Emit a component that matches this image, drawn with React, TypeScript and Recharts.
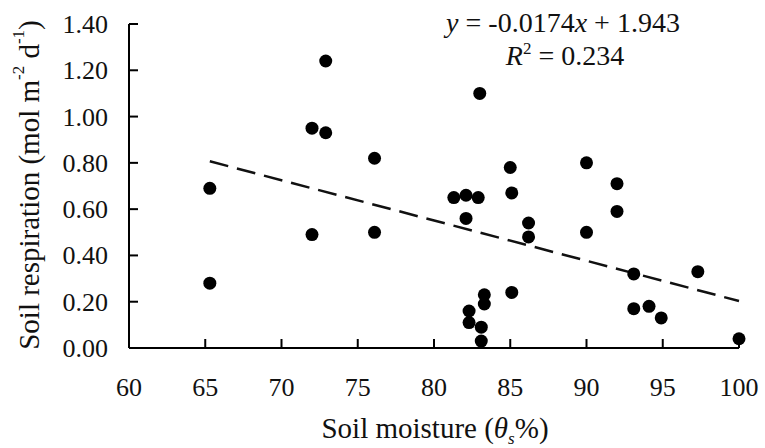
import { ReferenceLine, Scatter, ScatterChart, XAxis, YAxis } from "recharts";

// soil moisture (θs %) and soil respiration (mol m-2 d-1)
const moisture = [
  65.3, 65.3, 72.0, 72.0, 72.9, 72.9, 76.1, 76.1, 81.3, 82.1, 82.9, 82.1,
  83.0, 85.0, 85.1, 86.2, 86.2, 83.3, 83.3, 82.3, 82.3, 83.1, 83.1, 85.1,
  90.0, 90.0, 92.0, 92.0, 93.1, 93.1, 94.1, 94.9, 97.3, 100.0,
];
const respiration = [
  0.69, 0.28, 0.95, 0.49, 1.24, 0.93, 0.82, 0.5, 0.65, 0.66, 0.65, 0.56,
  1.1, 0.78, 0.67, 0.54, 0.48, 0.23, 0.19, 0.16, 0.11, 0.09, 0.03, 0.24,
  0.8, 0.5, 0.71, 0.59, 0.32, 0.17, 0.18, 0.13, 0.33, 0.04,
];

const xTicks = [60, 65, 70, 75, 80, 85, 90, 95, 100];
const yTicks = [0, 0.2, 0.4, 0.6, 0.8, 1.0, 1.2, 1.4];

// fitted line as printed on the chart
const slope = -0.0174;
const intercept = 1.943;
const fitStart = 65.3;
const fitEnd = 100;

const points = moisture.map((x, i) => ({ x, y: respiration[i] }));

const FONT = "'Liberation Serif', 'Times New Roman', serif";
const INK = "#111";
const TICK_LEN = 9;
const X_GAP = 30; // axis line -> x tick label
const Y_GAP = 21; // axis line -> y tick label

const Dot = (props: any) => (
  <circle cx={props.cx} cy={props.cy} r={6.5} fill="#000" />
);

// ticks point into the plot, labels stay outside
const XTick = (props: any) => {
  const { x, y, payload } = props;
  const axisY = y - X_GAP;
  return (
    <g>
      <path d={`M${x},${axisY}V${axisY - TICK_LEN}`} stroke="#000" strokeWidth={2} />
      <text x={x} y={y} dy={18} textAnchor="middle" fontSize={26} fontFamily={FONT} fill={INK}>
        {payload.value}
      </text>
    </g>
  );
};

const YTick = (props: any) => {
  const { x, y, payload } = props;
  const axisX = x + Y_GAP;
  return (
    <g>
      <path d={`M${axisX},${y}H${axisX + TICK_LEN}`} stroke="#000" strokeWidth={2} />
      <text x={x} y={y} dy={9} textAnchor="end" fontSize={26} fontFamily={FONT} fill={INK}>
        {payload.value.toFixed(2)}
      </text>
    </g>
  );
};

export default function App() {
  return (
    <div style={{ position: "absolute", left: 0, top: 0, background: "#fff" }}>
      <ScatterChart
        width={765}
        height={448}
        margin={{ top: 24, right: 26, left: 59, bottom: 40 }}
      >
        <XAxis
          type="number"
          dataKey="x"
          domain={[60, 100]}
          ticks={xTicks}
          interval={0}
          height={60}
          tickSize={0}
          tickMargin={X_GAP}
          tickLine={false}
          axisLine={{ stroke: "#000", strokeWidth: 2 }}
          tick={<XTick />}
        />
        <YAxis
          type="number"
          dataKey="y"
          domain={[0, 1.4]}
          ticks={yTicks}
          interval={0}
          width={70}
          tickSize={0}
          tickMargin={Y_GAP}
          tickLine={false}
          axisLine={{ stroke: "#000", strokeWidth: 2 }}
          tick={<YTick />}
        />
        <ReferenceLine
          segment={[
            { x: fitStart, y: slope * fitStart + intercept },
            { x: fitEnd, y: slope * fitEnd + intercept },
          ]}
          stroke="#111"
          strokeWidth={2.5}
          strokeDasharray="19 9"
          ifOverflow="visible"
        />
        <Scatter data={points} shape={Dot} isAnimationActive={false} />
        <text x={563} y={32} textAnchor="middle" fontSize={28} fontFamily={FONT} fill={INK}>
          <tspan fontStyle="italic">y</tspan> = -0.0174<tspan fontStyle="italic">x</tspan> + 1.943
        </text>
        <text x={565} y={65} textAnchor="middle" fontSize={28} fontFamily={FONT} fill={INK}>
          <tspan fontStyle="italic">R</tspan>
          <tspan fontSize={17} dy={-11}>2</tspan>
          <tspan dy={11}> = 0.234</tspan>
        </text>
        <text x={435} y={438} textAnchor="middle" fontSize={29} fontFamily={FONT} fill={INK}>
          Soil moisture (<tspan fontStyle="italic">θ</tspan>
          <tspan fontStyle="italic" fontSize={17} dy={6}>s</tspan>
          <tspan dy={-6}>%)</tspan>
        </text>
        <text
          transform="translate(29,185) rotate(-90)"
          textAnchor="middle"
          dominantBaseline="central"
          fontSize={29}
          fontFamily={FONT}
          fill={INK}
        >
          Soil respiration (mol m<tspan fontSize={17} dy={-11}>-2</tspan>
          <tspan dy={11}> d</tspan>
          <tspan fontSize={17} dy={-11}>-1</tspan>
          <tspan dy={11}>)</tspan>
        </text>
      </ScatterChart>
    </div>
  );
}
